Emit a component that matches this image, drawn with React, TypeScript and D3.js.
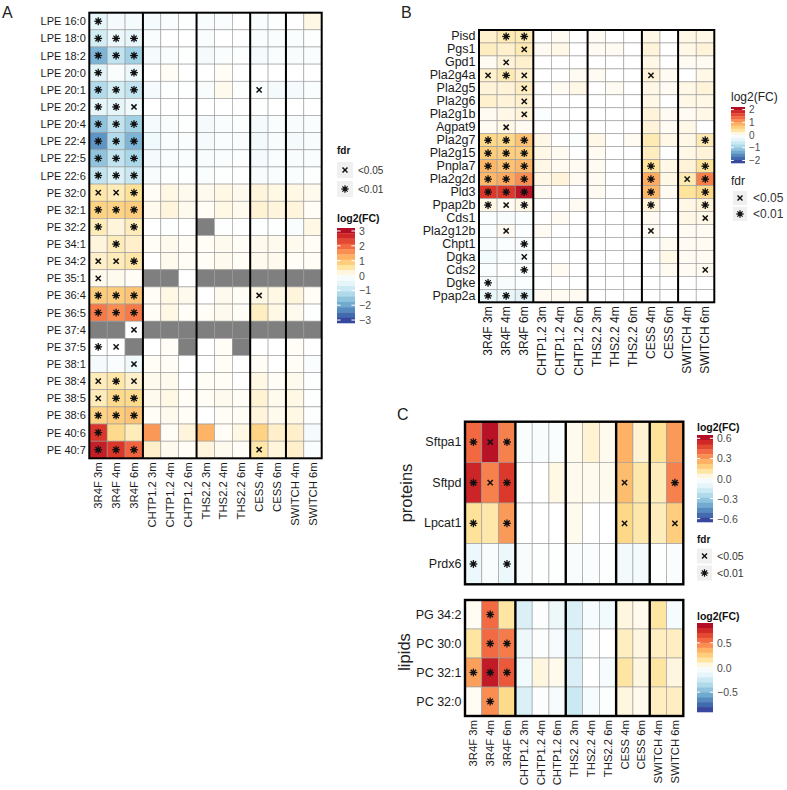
import React from "react";
import * as d3 from "d3";

const columns = [
  "3R4F 3m", "3R4F 4m", "3R4F 6m",
  "CHTP1.2 3m", "CHTP1.2 4m", "CHTP1.2 6m",
  "THS2.2 3m", "THS2.2 4m", "THS2.2 6m",
  "CESS 4m", "CESS 6m", "SWITCH 4m", "SWITCH 6m",
];
const groupSizes = [3, 3, 3, 2, 2];

// ---------- Panel A ----------
const aRows = [
  "LPE 16:0", "LPE 18:0", "LPE 18:2", "LPE 20:0", "LPE 20:1", "LPE 20:2", "LPE 20:4",
  "LPE 22:4", "LPE 22:5", "LPE 22:6", "PE 32:0", "PE 32:1", "PE 32:2", "PE 34:1",
  "PE 34:2", "PE 35:1", "PE 36:4", "PE 36:5", "PE 37:4", "PE 37:5", "PE 38:1",
  "PE 38:4", "PE 38:5", "PE 38:6", "PE 40:6", "PE 40:7",
];
const N = null;
const aValues: (number | null)[][] = [
  [-0.5, -0.2, -0.2, -0.2, -0.1, -0.05, -0.15, -0.1, 0, -0.1, -0.05, 0, 0.15],
  [-0.8, -0.4, -0.5, -0.1, 0, 0, -0.1, 0, 0, -0.1, -0.1, -0.1, -0.05],
  [-1.8, -1.0, -1.4, -0.2, -0.1, -0.05, -0.2, -0.1, -0.05, -0.2, -0.1, -0.15, -0.1],
  [-0.6, -0.1, -0.4, 0, 0.05, 0, 0, 0.05, 0, 0, 0, 0, 0],
  [-1.2, -0.8, -1.0, -0.2, -0.05, -0.05, -0.15, 0.1, -0.05, -0.1, -0.2, -0.2, -0.1],
  [-0.5, -0.5, -0.3, 0, 0, 0, 0, 0, 0, -0.05, 0, 0, 0],
  [-1.6, -1.0, -1.4, -0.2, -0.1, -0.05, -0.2, -0.1, -0.05, -0.2, -0.1, -0.15, -0.1],
  [-2.2, -1.2, -1.8, -0.3, -0.1, -0.1, -0.2, -0.1, -0.1, -0.25, -0.15, -0.2, -0.15],
  [-1.6, -1.0, -1.3, -0.2, -0.1, -0.1, -0.15, -0.1, -0.05, -0.2, -0.1, -0.15, -0.1],
  [-1.0, -0.7, -0.9, -0.15, -0.05, -0.05, -0.1, -0.05, 0, -0.15, -0.1, -0.1, -0.05],
  [0.5, 0.4, 0.6, 0.05, 0.15, 0.1, 0.1, 0.15, 0.1, 0.2, 0.15, 0.15, 0.1],
  [0.8, 0.8, 0.9, 0.1, 0.2, 0.1, 0.05, 0.15, 0.1, 0.25, 0.2, 0.2, 0.05],
  [0.4, 0.2, 0.4, 0, -0.05, 0, N, -0.05, 0, -0.05, -0.05, -0.1, 0.15],
  [0.2, 0.4, 0.3, 0.05, 0.1, 0.05, 0.05, 0.1, 0.05, 0.1, 0.1, 0.1, 0.05],
  [0.3, 0.4, 0.5, 0, 0.1, 0.05, 0.05, 0.1, 0.05, 0.1, 0.1, 0.05, 0.05],
  [0.1, 0.1, 0.05, N, N, 0, N, N, N, N, N, N, N],
  [0.9, 0.9, 1.0, 0.05, 0.15, 0.1, 0, 0.1, 0.05, 0.15, 0.15, 0.2, 0.05],
  [1.8, 1.6, 1.8, 0.05, 0.15, 0.05, 0.05, 0.1, 0.05, 0.35, 0.15, 0.1, -0.05],
  [N, N, 0, N, N, N, N, N, N, N, N, N, N],
  [0, 0, N, 0, 0.05, N, 0, 0.05, N, 0, 0, 0.05, 0],
  [-0.2, -0.1, -0.3, 0.05, 0.05, 0, 0, 0.05, 0, 0.05, 0, 0.05, -0.1],
  [0.4, 0.5, 0.3, 0.1, 0.1, 0, 0.05, 0.05, 0, 0.15, 0.05, 0.1, -0.05],
  [0.4, 0.7, 0.7, 0.1, 0.15, 0.05, 0.05, 0.1, 0.05, 0.25, 0.1, 0.15, -0.05],
  [0.8, 0.9, 1.0, 0.05, 0.1, 0.05, 0, 0.05, 0.05, 0.2, 0.1, 0.15, -0.05],
  [2.5, 0.7, 0.4, 1.5, 0.05, 0.2, 1.2, 0.05, 0.15, 0.8, 0.3, 0.3, -0.2],
  [2.8, 2.5, 2.0, 0.3, 0.1, 0.05, 0.2, 0.1, 0.05, 0.5, 0.2, 0.3, -0.1],
];
const aSig = [
  "*", "***", "***", "*.*", "***......x", "**x", "***", "***", "***", "***",
  "xx*", "***", "*.*", ".*.", "xx*", "x", "***......x", "***", "..x", "*x",
  "..x", "x*x", "x**", "***", "*", "***......x",
];

// ---------- Panel B ----------
const bRows = [
  "Pisd", "Pgs1", "Gpd1", "Pla2g4a", "Pla2g5", "Pla2g6", "Pla2g1b", "Agpat9", "Pla2g7",
  "Pla2g15", "Pnpla7", "Pla2g2d", "Pld3", "Ppap2b", "Cds1", "Pla2g12b", "Chpt1", "Dgka",
  "Cds2", "Dgke", "Ppap2a",
];
const bValues: number[][] = [
  [0.2, 0.3, 0.3, 0, 0.05, 0, 0.05, 0, 0, 0.1, 0, 0.1, 0.1],
  [0.25, 0.2, 0.3, 0.05, 0.1, 0, 0.05, 0.05, 0, 0.15, 0, 0.1, 0.15],
  [0.05, 0.15, 0.2, 0, 0, 0, 0, 0, 0, 0.1, 0, 0.05, 0.05],
  [0.2, 0.3, 0.2, 0, 0, 0.05, 0.05, 0, 0, 0.15, 0.05, 0, 0.1],
  [0.15, 0.15, 0.25, 0, 0.05, 0.1, 0, 0.05, 0, 0.1, 0.05, 0.1, 0.15],
  [0.2, 0.15, 0.2, 0, 0, 0, 0, 0, 0, 0.1, 0, 0.1, 0.1],
  [0.05, 0.1, 0.15, -0.05, 0, 0, 0, 0, 0, 0.15, 0.05, 0.05, 0.1],
  [0.05, 0.1, 0.05, 0, 0, 0, 0, 0, 0, 0.15, 0.05, 0.1, 0],
  [0.5, 0.5, 0.7, 0.1, 0, -0.05, 0.1, 0, 0.05, 0.3, 0.1, 0.1, 0.3],
  [0.6, 0.6, 0.6, 0.1, 0.05, 0, 0.05, 0, 0, 0.25, 0, 0.1, 0.15],
  [0.8, 0.7, 0.8, 0.1, 0.05, 0.05, 0.05, 0, 0, 0.4, 0.1, 0.15, 0.4],
  [0.8, 0.9, 1.1, 0.1, 0.15, 0.05, 0.05, 0, 0, 0.9, 0.1, 0.3, 1.2],
  [1.7, 1.7, 2.0, 0.05, 0, 0, 0.05, 0, 0, 0.8, 0.05, 0.4, 0.5],
  [0.1, 0.05, 0.1, 0, 0, 0.05, 0, 0, 0, 0.15, 0, 0.1, 0.15],
  [-0.05, -0.1, -0.05, 0, 0.05, 0, 0, 0, 0, 0.05, 0, 0.1, 0.1],
  [-0.05, 0.05, -0.05, 0.05, 0, 0, 0, 0, 0, 0.05, 0, 0.05, 0.05],
  [-0.1, -0.05, -0.1, 0, 0, 0, 0, 0, 0, 0, 0.05, 0.05, 0.05],
  [-0.15, -0.05, -0.1, 0, 0, 0, 0, 0, 0, 0, 0.1, 0.05, 0.05],
  [-0.05, 0, -0.05, 0, 0.05, 0, 0, 0, 0, 0, 0.05, 0.05, 0.05],
  [-0.1, -0.1, -0.05, 0, 0, 0, 0, 0, 0, 0, 0, 0, 0],
  [-0.3, -0.3, -0.4, 0.05, 0.05, 0.05, 0, 0, 0, 0, 0, 0, 0],
];
const bSig = [
  ".**", "..x", ".x", "x*x......x", "..x", "..x", "..x", ".x", "***.........*",
  "***", "***......*..*", "***......*.x*", "***......*..*", "*x*......*..*",
  "............x", ".x.......x", "..*", "..x", "..*.........x", "*", "***",
];

// ---------- Panel C ----------
const cProtRows = ["Sftpa1", "Sftpd", "Lpcat1", "Prdx6"];
const cProtValues: number[][] = [
  [0.4, 0.6, 0.35, -0.02, -0.03, -0.02, 0.02, 0.05, 0.02, 0.25, 0.05, 0.12, 0.3],
  [0.55, 0.35, 0.5, 0, 0, 0.03, 0.02, 0.02, 0.02, 0.22, 0.1, 0.08, 0.35],
  [0.12, 0.1, 0.3, 0, 0, 0, 0.02, 0, 0, 0.15, 0.1, 0.08, 0.18],
  [-0.08, -0.03, -0.08, -0.03, -0.01, -0.01, -0.03, -0.02, -0.01, -0.05, -0.04, -0.01, -0.02],
];
const cProtSig = ["*x*", "*x*......x..*", "*.*......x..x", "*.*"];

const cLipRows = ["PG 34:2", "PC 30:0", "PC 32:1", "PC 32:0"];
const cLipValues: number[][] = [
  [0.02, 0.55, 0.15, -0.2, -0.02, -0.1, -0.2, -0.05, -0.08, 0.05, 0.03, 0.15, -0.05],
  [0.15, 0.55, 0.5, -0.1, -0.02, -0.05, -0.2, -0.02, 0, 0.1, 0.05, 0.1, 0.1],
  [0.4, 0.8, 0.6, -0.08, 0.05, 0.03, -0.2, 0, -0.05, 0.15, 0.05, 0.15, 0.05],
  [0.02, 0.45, 0.2, -0.2, -0.02, -0.05, -0.25, -0.05, -0.02, 0.05, 0.03, 0.1, 0.1],
];
const cLipSig = [".*.", ".**", "***", ".*."];

const aTicks = [3, 2, 1, 0, -1, -2, -3];
const bTicks = [2, 1, 0, -1, -2];
const cProtTicks = [0.6, 0.3, 0, -0.3, -0.6];
const cLipTicks = [0.5, 0, -0.5];

// diverging palette (blue -> white -> red), from low to high
const paletteColors = [
  "#313695", "#4575b4", "#74add1", "#abd9e9", "#e0f3f8", "#ffffff",
  "#fee090", "#fdae61", "#f46d43", "#d73027", "#a50026",
];

const FONT = "'Liberation Sans', Arial, Helvetica, sans-serif";
const NA_COLOR = "#7f7f7f";

function makeColor(max: number) {
  const interp = d3.piecewise(d3.interpolateRgb, paletteColors);
  return d3.scaleSequential(interp).domain([-max, max]).clamp(true);
}

function Cross({ cx, cy, s }: { cx: number; cy: number; s: number }) {
  const r = 2.6 * s;
  return (
    <g stroke="#111" strokeWidth={1.5 * s} strokeLinecap="butt">
      <line x1={cx - r} y1={cy - r} x2={cx + r} y2={cy + r} />
      <line x1={cx - r} y1={cy + r} x2={cx + r} y2={cy - r} />
    </g>
  );
}

function Star({ cx, cy, s }: { cx: number; cy: number; s: number }) {
  const r = 3.9 * s;
  const angles = [0, 45, 90, 135];
  return (
    <g stroke="#111" strokeWidth={1.3 * s}>
      {angles.map((a) => {
        const rad = (a * Math.PI) / 180;
        return (
          <line key={a} x1={cx - r * Math.cos(rad)} y1={cy - r * Math.sin(rad)}
            x2={cx + r * Math.cos(rad)} y2={cy + r * Math.sin(rad)} />
        );
      })}
      <circle cx={cx} cy={cy} r={2 * s} fill="#111" stroke="none" />
    </g>
  );
}

type HProps = {
  x0: number; y0: number; w: number; h: number;
  rows: string[]; values: (number | null)[][]; sig: string[]; max: number;
  rowFont: number; colFont?: number; markerScale: number; borderW: number;
};

function Heatmap(p: HProps) {
  const x = d3.scaleBand<string>().domain(columns).range([p.x0, p.x0 + p.w]);
  const y = d3.scaleBand<string>().domain(p.rows).range([p.y0, p.y0 + p.h]);
  const color = makeColor(p.max);
  const edges: number[] = [];
  let acc = 0;
  groupSizes.slice(0, -1).forEach((g) => { acc += g; edges.push(p.x0 + acc * x.bandwidth()); });
  return (
    <g>
      {p.rows.map((r, i) =>
        columns.map((c, j) => {
          const v = p.values[i][j];
          return (
            <rect key={r + c} x={x(c)} y={y(r)} width={x.bandwidth()} height={y.bandwidth()}
              fill={v === null ? NA_COLOR : color(v)} stroke="#9a9a9a" strokeWidth={0.6} />
          );
        })
      )}
      {p.rows.map((r, i) => {
        const s = p.sig[i].padEnd(columns.length, ".");
        return columns.map((c, j) => {
          const cx = (x(c) as number) + x.bandwidth() / 2;
          const cy = (y(r) as number) + y.bandwidth() / 2;
          if (s[j] === "x") return <Cross key={"m" + r + c} cx={cx} cy={cy} s={p.markerScale} />;
          if (s[j] === "*") return <Star key={"m" + r + c} cx={cx} cy={cy} s={p.markerScale} />;
          return null;
        });
      })}
      {edges.map((e) => (
        <line key={e} x1={e} x2={e} y1={p.y0} y2={p.y0 + p.h} stroke="#000" strokeWidth={p.borderW} />
      ))}
      <rect x={p.x0} y={p.y0} width={p.w} height={p.h} fill="none" stroke="#000" strokeWidth={p.borderW} />
      {p.rows.map((r) => (
        <text key={"l" + r} x={p.x0 - 3.5} y={(y(r) as number) + y.bandwidth() / 2}
          textAnchor="end" dominantBaseline="central" fontSize={p.rowFont} fill="#1a1a1a" fontFamily={FONT}>
          {r}
        </text>
      ))}
      {p.colFont
        ? columns.map((c) => (
            <text key={"c" + c}
              transform={`translate(${(x(c) as number) + x.bandwidth() / 2},${p.y0 + p.h + 4}) rotate(-90)`}
              textAnchor="end" dominantBaseline="central" fontSize={p.colFont} fill="#1a1a1a" fontFamily={FONT}>
              {c}
            </text>
          ))
        : null}
    </g>
  );
}

type LProps = {
  x: number; y: number; w: number; h: number; max: number; ticks: number[];
  fmt: (v: number) => string; labelFont: number;
};

function ColorBar(p: LProps) {
  const ys = d3.scaleLinear().domain([p.max, -p.max]).range([p.y, p.y + p.h]);
  const color = makeColor(p.max);
  const nb = 18;
  const bands = d3.range(nb).map((i) => {
    const v0 = p.max - (i * 2 * p.max) / nb;
    const v1 = p.max - ((i + 1) * 2 * p.max) / nb;
    return { v0, v1, mid: (v0 + v1) / 2 };
  });
  const tl = p.w * 0.2;
  return (
    <g>
      {bands.map((b, i) => (
        <rect key={i} x={p.x} y={ys(b.v0)} width={p.w} height={ys(b.v1) - ys(b.v0) + 0.3} fill={color(b.mid)} />
      ))}
      {p.ticks.map((t) => (
        <g key={t} stroke="#fff" strokeWidth={1}>
          <line x1={p.x} x2={p.x + tl} y1={ys(t)} y2={ys(t)} />
          <line x1={p.x + p.w - tl} x2={p.x + p.w} y1={ys(t)} y2={ys(t)} />
        </g>
      ))}
      {p.ticks.map((t) => (
        <text key={"t" + t} x={p.x + p.w + 4} y={ys(t)} dominantBaseline="central"
          fontSize={p.labelFont} fill="#4d4d4d" fontFamily={FONT}>
          {p.fmt(t)}
        </text>
      ))}
    </g>
  );
}

function FdrKeys({ x, y, gap, box, font, s, textX }: { x: number; y: number; gap: number; box: number; font: number; s: number; textX: number }) {
  const items = [
    { k: "x", label: "<0.05" },
    { k: "*", label: "<0.01" },
  ];
  return (
    <g>
      {items.map((it, i) => {
        const cy = y + i * gap;
        return (
          <g key={it.k}>
            <rect x={x} y={cy - box / 2} width={box} height={box} fill="#f0f0f0" />
            {it.k === "x" ? <Cross cx={x + box / 2} cy={cy} s={s} /> : <Star cx={x + box / 2} cy={cy} s={s} />}
            <text x={textX} y={cy} dominantBaseline="central" fontSize={font} fill="#333" fontFamily={FONT}>
              {it.label}
            </text>
          </g>
        );
      })}
    </g>
  );
}

const minus = (s: string) => s.replace("-", "\u2212");
const fmtInt = (v: number) => minus(d3.format("d")(v));
const fmt1 = (v: number) => minus(d3.format(".1f")(v === 0 ? 0 : v));

export default function App() {
  return (
    <svg width={787} height={790} style={{ position: "absolute", left: 0, top: 0, background: "#fff" }}
      fontFamily={FONT}>
      <rect width={787} height={790} fill="#fff" />
      {/* Panel letters */}
      <text x={2} y={18} fontSize={16} fill="#222" fontFamily={FONT}>A</text>
      <text x={401} y={18} fontSize={16} fill="#222" fontFamily={FONT}>B</text>
      <text x={397} y={420} fontSize={16} fill="#222" fontFamily={FONT}>C</text>

      {/* Panel A */}
      <Heatmap x0={89.3} y0={12.7} w={232.4} h={445.6} rows={aRows} values={aValues} sig={aSig}
        max={3.2} rowFont={11} colFont={11.3} markerScale={1} borderW={2} />
      <text x={337} y={154} fontSize={10} fontWeight="bold" fill="#111">fdr</text>
      <FdrKeys x={337} y={170} gap={19} box={16} font={10} s={0.95} textX={358} />
      <text x={337} y={222} fontSize={10.5} fontWeight="bold" fill="#111">log2(FC)</text>
      <ColorBar x={337} y={228} w={18} h={95} max={3.2} ticks={aTicks} fmt={fmtInt} labelFont={10.5} />

      {/* Panel B */}
      <Heatmap x0={479} y0={30} w={235.3} h={272.3} rows={bRows} values={bValues} sig={bSig}
        max={2.2} rowFont={12.5} colFont={12} markerScale={1} borderW={2} />
      <text x={731} y={101} fontSize={12} fill="#222">log2(FC)</text>
      <ColorBar x={731} y={107} w={14} h={56} max={2.2} ticks={bTicks} fmt={fmtInt} labelFont={10} />
      <text x={731} y={185} fontSize={12} fill="#222">fdr</text>
      <FdrKeys x={733} y={198} gap={16} box={14} font={12} s={0.95} textX={753} />

      {/* Panel C */}
      <Heatmap x0={465} y0={421.7} w={218.3} h={162.6} rows={cProtRows} values={cProtValues} sig={cProtSig}
        max={0.65} rowFont={12.5} markerScale={1} borderW={2.4} />
      <Heatmap x0={465} y0={600} w={218.3} h={116} rows={cLipRows} values={cLipValues} sig={cLipSig}
        max={0.9} rowFont={12.5} colFont={11.3} markerScale={1} borderW={2.4} />
      <text transform="translate(412,493) rotate(-90)" textAnchor="middle" fontSize={16.5} fill="#222">proteins</text>
      <text transform="translate(410,652) rotate(-90)" textAnchor="middle" fontSize={16.5} fill="#222">lipids</text>

      <text x={697} y={431} fontSize={10.5} fontWeight="bold" fill="#111">log2(FC)</text>
      <ColorBar x={697} y={435} w={16} h={87} max={0.65} ticks={cProtTicks} fmt={fmt1} labelFont={10.5} />
      <text x={697} y={543} fontSize={10} fontWeight="bold" fill="#111">fdr</text>
      <FdrKeys x={697} y={556} gap={17} box={15} font={10.5} s={0.95} textX={717} />

      <text x={697} y={620} fontSize={10.5} fontWeight="bold" fill="#111">log2(FC)</text>
      <ColorBar x={697} y={623} w={16} h={89} max={0.9} ticks={cLipTicks} fmt={fmt1} labelFont={10.5} />
    </svg>
  );
}
